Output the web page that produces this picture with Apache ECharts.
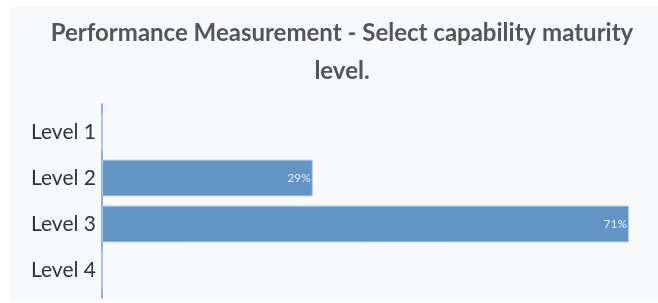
<!DOCTYPE html>
<html>
    <head>
        <meta charset="utf-8">
        <title>Performance Measurement</title>
        <script src="https://cdn.jsdelivr.net/npm/echarts@6.0.0/dist/echarts.min.js"></script>
        <style>
            body { margin: 0; background: #ffffff; }
            #chartmain { position: absolute; left: 10px; top: 7px; width: 648px; height: 294px; background: #f8f9fb; }
        </style>
    </head>
    <body>
        <div id="chartmain"></div>
        <script type="text/javascript">
            // 類別與百分比 (標籤四捨五入顯示)
            var levels = ['Level 1', 'Level 2', 'Level 3', 'Level 4'];
            var percents = [0, 28.57, 71.43, 0];
            var titleText = 'Performance Measurement - Select capability maturity\nlevel.';

            var myChart = echarts.init(document.getElementById('chartmain'));

            var option = {
                animation: false,
                title: {
                    text: titleText,
                    left: 327,
                    top: 2,
                    textAlign: 'center',
                    textStyle: {
                        fontFamily: 'Lato',
                        fontWeight: 'bold',
                        fontSize: 24,
                        color: '#555555',
                        lineHeight: 38
                    }
                },
                grid: [
                    { left: 92, right: 29, top: 102, height: 184, containLabel: false },
                    // 只畫較長的軸線
                    { left: 92, right: 29, top: 97, height: 194, containLabel: false }
                ],
                xAxis: [
                    { type: 'value', min: 0, max: 'dataMax', show: false, gridIndex: 0 },
                    { type: 'value', min: 0, max: 1, show: false, gridIndex: 1 }
                ],
                yAxis: [
                    {
                        type: 'category',
                        data: levels,
                        inverse: true,
                        gridIndex: 0,
                        axisTick: { show: false },
                        axisLine: { show: false },
                        axisLabel: {
                            fontFamily: 'Lato',
                            fontSize: 21,
                            color: '#333333',
                            margin: 6,
                            padding: [4, 0, 0, 0]
                        }
                    },
                    {
                        type: 'value',
                        gridIndex: 1,
                        min: 0,
                        max: 1,
                        axisLine: { show: true, lineStyle: { color: '#6a9ad0', width: 1.5 } },
                        axisTick: { show: false },
                        axisLabel: { show: false },
                        splitLine: { show: false }
                    }
                ],
                series: [
                    {
                        type: 'bar',
                        data: percents,
                        barCategoryGap: '20%',
                        itemStyle: {
                            color: '#6394c6',
                            borderColor: '#b5cde6',
                            borderWidth: 1
                        },
                        label: {
                            show: true,
                            position: 'insideRight',
                            distance: 2,
                            fontFamily: 'Lato',
                            fontSize: 12,
                            color: '#e8eef6',
                            formatter: function (p) {
                                return p.value > 0 ? Math.round(p.value) + '%' : '';
                            }
                        }
                    }
                ]
            };

            myChart.setOption(option);
        </script>
    </body>
</html>
